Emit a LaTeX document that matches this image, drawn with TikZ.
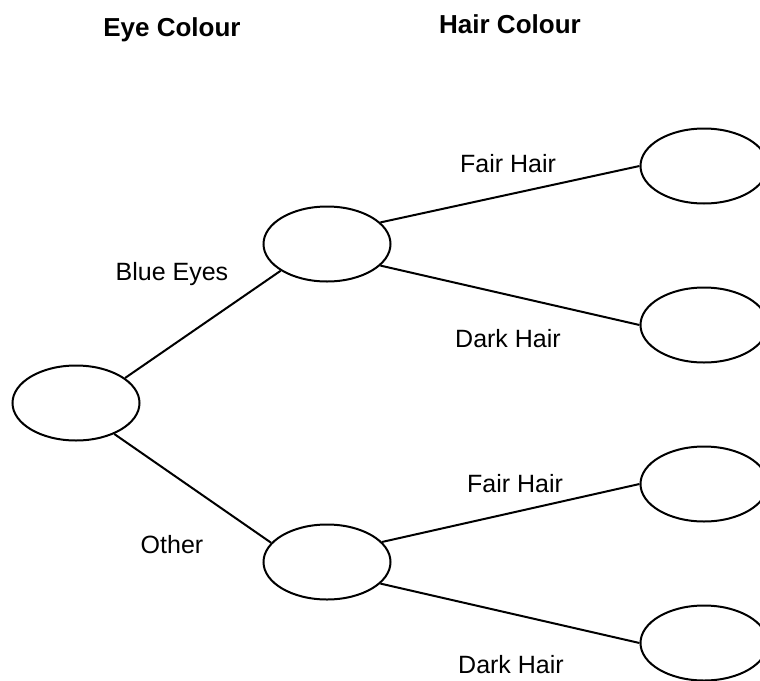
\documentclass[tikz,border=0pt]{standalone}
\usepackage{fontspec}
\setmainfont{Liberation Sans}
\usetikzlibrary{shapes.geometric}

\begin{document}
\begin{tikzpicture}[x=1pt, y=-1pt,
        bubble/.style={draw, ellipse, line width=2pt, minimum width=127pt, minimum height=75pt, inner sep=0pt},
        branch/.style={line width=2pt},
        lbl/.style={anchor=base, font=\fontsize{25}{30}\selectfont},
        heading/.style={anchor=base, font=\fontsize{26}{31}\selectfont\bfseries}]
        \useasboundingbox (0,0) rectangle (760,680);
        \clip (0,0) rectangle (760,680);
        % headings
        \node[heading] (eye)  at (172,36) {Eye Colour};
        \node[heading] (hair) at (510,33) {Hair Colour};
        % bubbles
        \node[bubble] (root)  at (76,403)  {};
        \node[bubble] (blue)  at (327,244) {};
        \node[bubble] (other) at (327,562) {};
        \node[bubble] (bf) at (704,166) {};
        \node[bubble] (bd) at (704,325) {};
        \node[bubble] (of) at (704,484) {};
        \node[bubble] (od) at (704,643) {};
        % branches
        \draw[branch] (root.27)  -- (blue.210);
        \draw[branch] (root.-39) -- (other.161);
        \draw[branch] (blue.22)   -- (bf.west);
        \draw[branch] (blue.-22)  -- (bd.west);
        \draw[branch] (other.20)  -- (of.west);
        \draw[branch] (other.-22) -- (od.west);
        % labels
        \node[lbl] (lblue)  at (172,280) {Blue Eyes};
        \node[lbl] (lother) at (172,553) {Other};
        \node[lbl] (lbf) at (508,172) {Fair Hair};
        \node[lbl] (lbd) at (508,347) {Dark Hair};
        \node[lbl] (lof) at (515,492) {Fair Hair};
        \node[lbl] (lod) at (511,673) {Dark Hair};
\end{tikzpicture}
\end{document}
